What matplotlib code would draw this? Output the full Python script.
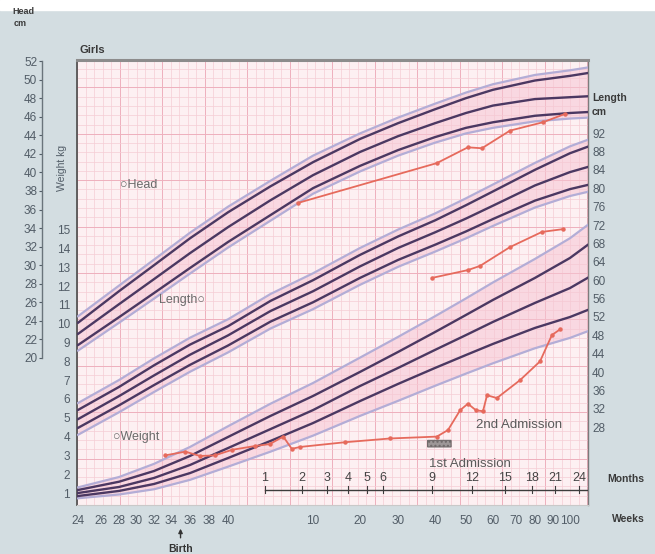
import numpy as np
import matplotlib
matplotlib.use("Agg")
import matplotlib.pyplot as plt
from matplotlib.patches import Rectangle, FancyBboxPatch

plt.rcParams["font.family"] = ["Liberation Sans", "DejaVu Sans"]

# the age axis (post-menstrual weeks) is stretched piecewise on this chart
SCALE_WEEKS = [20, 24, 26, 28, 30, 32, 34, 36, 38, 40, 50, 60, 70, 80, 90, 100, 110, 120, 130, 140, 150, 160]
SCALE_POS = [36, 78, 101, 119, 136, 154, 171, 190, 209, 228, 313, 360, 398, 435, 466, 493, 516, 535, 553, 570, 592, 614]

# reference curves, sampled at these ages (weeks)
CURVE_WEEKS = [24, 28, 32, 36, 40, 45, 50, 60, 70, 80, 90, 100, 120, 140, 148]

head_top = [23.8, 27.2, 30.0, 32.9, 35.7, 38.5, 41.1, 43.6, 45.3, 46.8, 48.0, 48.9, 49.9, 50.4, 50.7]
head_mid = [22.6, 25.8, 28.5, 31.3, 34.1, 37.0, 39.7, 42.2, 43.9, 45.3, 46.4, 47.2, 47.9, 48.1, 48.2]
head_low = [21.4, 24.4, 27.0, 29.7, 32.5, 35.4, 38.3, 40.7, 42.4, 43.8, 44.8, 45.4, 46.1, 46.4, 46.5]
head_outer_hi = [24.5, 27.8, 30.6, 33.5, 36.3, 39.1, 41.8, 44.2, 45.9, 47.4, 48.6, 49.5, 50.5, 51.0, 51.3]
head_outer_lo = [20.8, 23.8, 26.4, 29.1, 31.9, 34.8, 37.7, 40.1, 41.8, 43.2, 44.2, 44.8, 45.5, 45.8, 45.9]

length_top = [31.8, 36.8, 41.5, 46.0, 50.0, 55.5, 60.0, 65.5, 69.5, 73.0, 76.3, 79.3, 84.0, 87.6, 89.0]
length_mid = [29.8, 34.8, 39.3, 43.8, 48.0, 53.3, 57.6, 63.0, 67.0, 70.4, 73.4, 76.2, 80.6, 83.5, 84.6]
length_low = [27.9, 32.8, 37.2, 41.6, 45.8, 51.0, 55.2, 60.5, 64.4, 67.7, 70.6, 73.3, 77.3, 79.8, 80.7]
length_outer_hi = [33.3, 38.3, 43.0, 47.5, 51.5, 57.0, 61.5, 67.0, 71.0, 74.5, 77.8, 80.8, 85.5, 89.1, 90.5]
length_outer_lo = [26.4, 31.3, 35.7, 40.1, 44.3, 49.5, 53.7, 59.0, 62.9, 66.2, 69.1, 71.8, 75.8, 78.3, 79.2]

weight_top = [1.16, 1.6, 2.17, 2.97, 3.98, 5.1, 6.16, 7.44, 8.5, 9.56, 10.47, 11.27, 12.44, 13.5, 14.19]
weight_mid = [1.0, 1.32, 1.8, 2.49, 3.39, 4.4, 5.41, 6.69, 7.65, 8.61, 9.4, 10.1, 11.11, 11.9, 12.44]
weight_low = [0.84, 1.11, 1.48, 2.06, 2.86, 3.77, 4.72, 5.89, 6.8, 7.65, 8.34, 8.93, 9.78, 10.36, 10.73]
weight_outer_hi = [1.3, 1.85, 2.55, 3.45, 4.55, 5.75, 6.85, 8.2, 9.3, 10.4, 11.35, 12.2, 13.45, 14.55, 15.25]
weight_outer_lo = [0.72, 0.92, 1.2, 1.7, 2.4, 3.2, 4.05, 5.1, 5.9, 6.7, 7.35, 7.9, 8.7, 9.25, 9.6]

# the patient
pt_weight_weeks = [33.3, 35.5, 37.05, 38.6, 40.5, 43.2, 44.9, 46.5, 47.5, 48.5, 56.8, 67.9,
                   80.6, 84.2, 88.1, 90.7, 93.7, 96.3, 97.8, 101.7, 112.1, 122.8, 129.4, 134.1]
pt_weight = [3.0, 3.2, 2.97, 3.0, 3.3, 3.5, 3.6, 4.0, 3.35, 3.45, 3.7, 3.9,
             4.0, 4.35, 5.4, 5.75, 5.4, 5.35, 6.2, 6.05, 7.0, 8.0, 9.4, 9.7]
pt_head_weeks = [48.2, 80.6, 90.7, 95.9, 107.4, 124.4, 137.1]
pt_head = [36.7, 41.0, 42.7, 42.6, 44.5, 45.4, 46.3]
pt_length_weeks = [79.2, 90.7, 95.2, 107.4, 123.9, 135.9]
pt_length = [60.5, 62.2, 63.1, 67.2, 70.5, 71.1]

admission1_weeks = (78.0, 85.2)
admission1_weight = (3.45, 3.8)
birth_week = 35

gest_ticks = [24, 26, 28, 30, 32, 34, 36, 38, 40]
post_ticks = [10, 20, 30, 40, 50, 60, 70, 80, 90, 100]
months = [1, 2, 3, 4, 5, 6, 9, 12, 15, 18, 21, 24]


def fwd(w):
    return np.interp(w, SCALE_WEEKS, SCALE_POS)


def inv(p):
    return np.interp(p, SCALE_POS, SCALE_WEEKS)


DARK = "#4b3862"
LIGHT = "#b3add6"
BAND = "#f6c6d3"
PATIENT = "#e66a5c"
TXT = "#525d67"

fig = plt.figure(figsize=(6.55, 5.54), dpi=100)
fig.patch.set_facecolor("#d3dde1")
fig.add_artist(Rectangle((0, 1 - 10 / 554), 1, 10 / 554, transform=fig.transFigure,
                         color="white", zorder=0))

pos = [77 / 655, 1 - 505 / 554, 511 / 655, 445 / 554]

# pink graph paper
bg = fig.add_axes(pos, zorder=0)
bg.set_facecolor("#fdf0f2")
bg.set_xlim(0, 511)
bg.set_ylim(0, 445)
for i, x in enumerate(np.arange(0, 511, 8.5)):
    bg.axvline(x, color="#eeb0bd" if i % 5 == 0 else "#f5cdd5", lw=0.7 if i % 5 == 0 else 0.5)
for i, y in enumerate(np.arange(0, 445, 9.28)):
    bg.axhline(y, color="#eeb0bd" if i % 5 == 0 else "#f5cdd5", lw=0.7 if i % 5 == 0 else 0.5)
bg.set_xticks([])
bg.set_yticks([])
bg.spines["top"].set(color="#8c8c8c", lw=2.2)
bg.spines["left"].set(color="#555555", lw=1.3)
bg.spines["right"].set(color="#7a7a7a", lw=1.0)
bg.spines["bottom"].set(color="#c9c9c9", lw=0.8)

# head axis (main), weight and length on twins
ax = fig.add_axes(pos, zorder=1)
ax.patch.set_visible(False)
ax.set_xscale("function", functions=(fwd, inv))
ax.set_xlim(23.9, 148.2)
ax.set_ylim(4.16, 52.11)

ax_w = ax.twinx()
ax_w.set_ylim(0.362, 24.03)
ax_l = ax.twinx()
ax_l.set_ylim(11.13, 107.87)


def draw_group(a, lo_o, lo, mid, hi, hi_o):
    a.fill_between(CURVE_WEEKS, lo_o, hi_o, color=BAND, alpha=0.55, lw=0, zorder=1)
    for s in (lo_o, hi_o):
        a.plot(CURVE_WEEKS, s, color=LIGHT, lw=1.6, zorder=2)
    for s in (lo, mid, hi):
        a.plot(CURVE_WEEKS, s, color=DARK, lw=1.7, zorder=3)


draw_group(ax, head_outer_lo, head_low, head_mid, head_top, head_outer_hi)
draw_group(ax_l, length_outer_lo, length_low, length_mid, length_top, length_outer_hi)
draw_group(ax_w, weight_outer_lo, weight_low, weight_mid, weight_top, weight_outer_hi)

kw = dict(color=PATIENT, lw=1.3, marker="o", ms=2.2, zorder=5)
ax_w.plot(pt_weight_weeks, pt_weight, **kw)
ax.plot(pt_head_weeks, pt_head, **kw)
ax_l.plot(pt_length_weeks, pt_length, **kw)

ax_w.add_patch(FancyBboxPatch((admission1_weeks[0], admission1_weight[0]),
                              admission1_weeks[1] - admission1_weeks[0],
                              admission1_weight[1] - admission1_weight[0],
                              boxstyle="round,pad=0", fc="#9d9797", ec="#6e6868",
                              lw=0.8, hatch="....", zorder=6))

# left: head cm, spine pushed out
for side in ("top", "right", "bottom"):
    ax.spines[side].set_visible(False)
ax.spines["left"].set_position(("outward", 25.2))
ax.spines["left"].set_bounds(20, 52)
ax.spines["left"].set(color="#6a747b", lw=1.0)
ax.set_yticks(range(20, 53, 2))
ax.tick_params(axis="y", length=2, pad=1.5, labelsize=8.5, colors=TXT)

ax.set_xticks(gest_ticks + [40 + w for w in post_ticks],
              [str(t) for t in gest_ticks] + [str(t) for t in post_ticks])
ax.tick_params(axis="x", length=0, pad=7, labelsize=8.5, colors=TXT)

for a in (ax_w, ax_l):
    for sp in a.spines.values():
        sp.set_visible(False)

ax_w.yaxis.tick_left()
ax_w.set_yticks(range(1, 16))
ax_w.tick_params(axis="y", length=0, pad=5, labelsize=8.5, colors=TXT)

ax_l.set_yticks(range(28, 93, 4))
ax_l.tick_params(axis="y", length=0, pad=3, labelsize=8.5, colors=TXT)

# months row inside the plot
trans = ax.get_xaxis_transform()
mweeks = [40 + m * 4.345 for m in months]
ax.plot([mweeks[0], 148.2], [0.034, 0.034], transform=trans, color="#3c3c3c", lw=1.0, zorder=6)
for m, w in zip(months, mweeks):
    ax.plot([w, w], [0.028, 0.042], transform=trans, color="#3c3c3c", lw=0.8, zorder=6)
    ax.text(w, 0.061, str(m), transform=trans, ha="center", va="center", fontsize=9, color="#444444", zorder=6)
fig.text(607 / 655, 1 - 479 / 554, "Months", fontsize=7.5, fontweight="bold", color="#3a3a3a", va="center")
fig.text(628 / 655, 1 - 519 / 554, "Weeks", fontsize=7.5, fontweight="bold", color="#3a3a3a", va="center", ha="center")

ax.annotate("", xy=(birth_week, -0.047), xytext=(birth_week, -0.08), xycoords=trans,
            arrowprops=dict(arrowstyle="-|>", color="#333333", lw=1.0, mutation_scale=6))
ax.text(birth_week, -0.098, "Birth", transform=trans, ha="center", va="center",
        fontsize=7.5, fontweight="bold", color="#333333")

# labels on the chart
lab = dict(fontsize=9, color="#6a6a6a", va="center", transform=ax.transAxes)
ax.text(0.084, 0.719, "\u25cbHead", **lab)
ax.text(0.160, 0.461, "Length\u25cb", **lab)
ax.text(0.070, 0.153, "\u25cbWeight", **lab)
ax.text(0.781, 0.180, "2nd Admission", fontsize=9.5, color="#5a5a5a", va="center", transform=ax.transAxes)
ax.text(0.689, 0.092, "1st Admission", fontsize=9.5, color="#5a5a5a", va="center", transform=ax.transAxes)

fig.text(80 / 655, 1 - 50 / 554, "Girls", fontsize=8, fontweight="bold", color="#3a3a3a", va="center")
fig.text(12 / 655, 1 - 12 / 554, "Head", fontsize=6.5, fontweight="bold", color="#3a3a3a", va="center")
fig.text(14 / 655, 1 - 23 / 554, "cm", fontsize=6.5, fontweight="bold", color="#3a3a3a", va="center")
fig.text(592 / 655, 1 - 98 / 554, "Length", fontsize=7.5, fontweight="bold", color="#3a3a3a", va="center")
fig.text(592 / 655, 1 - 112 / 554, "cm", fontsize=7.5, fontweight="bold", color="#3a3a3a", va="center")
fig.text(62 / 655, 1 - 168 / 554, "Weight kg", fontsize=7.5, color=TXT, rotation=90, ha="center", va="center")

fig.savefig("out.png", dpi=100, facecolor=fig.get_facecolor())
